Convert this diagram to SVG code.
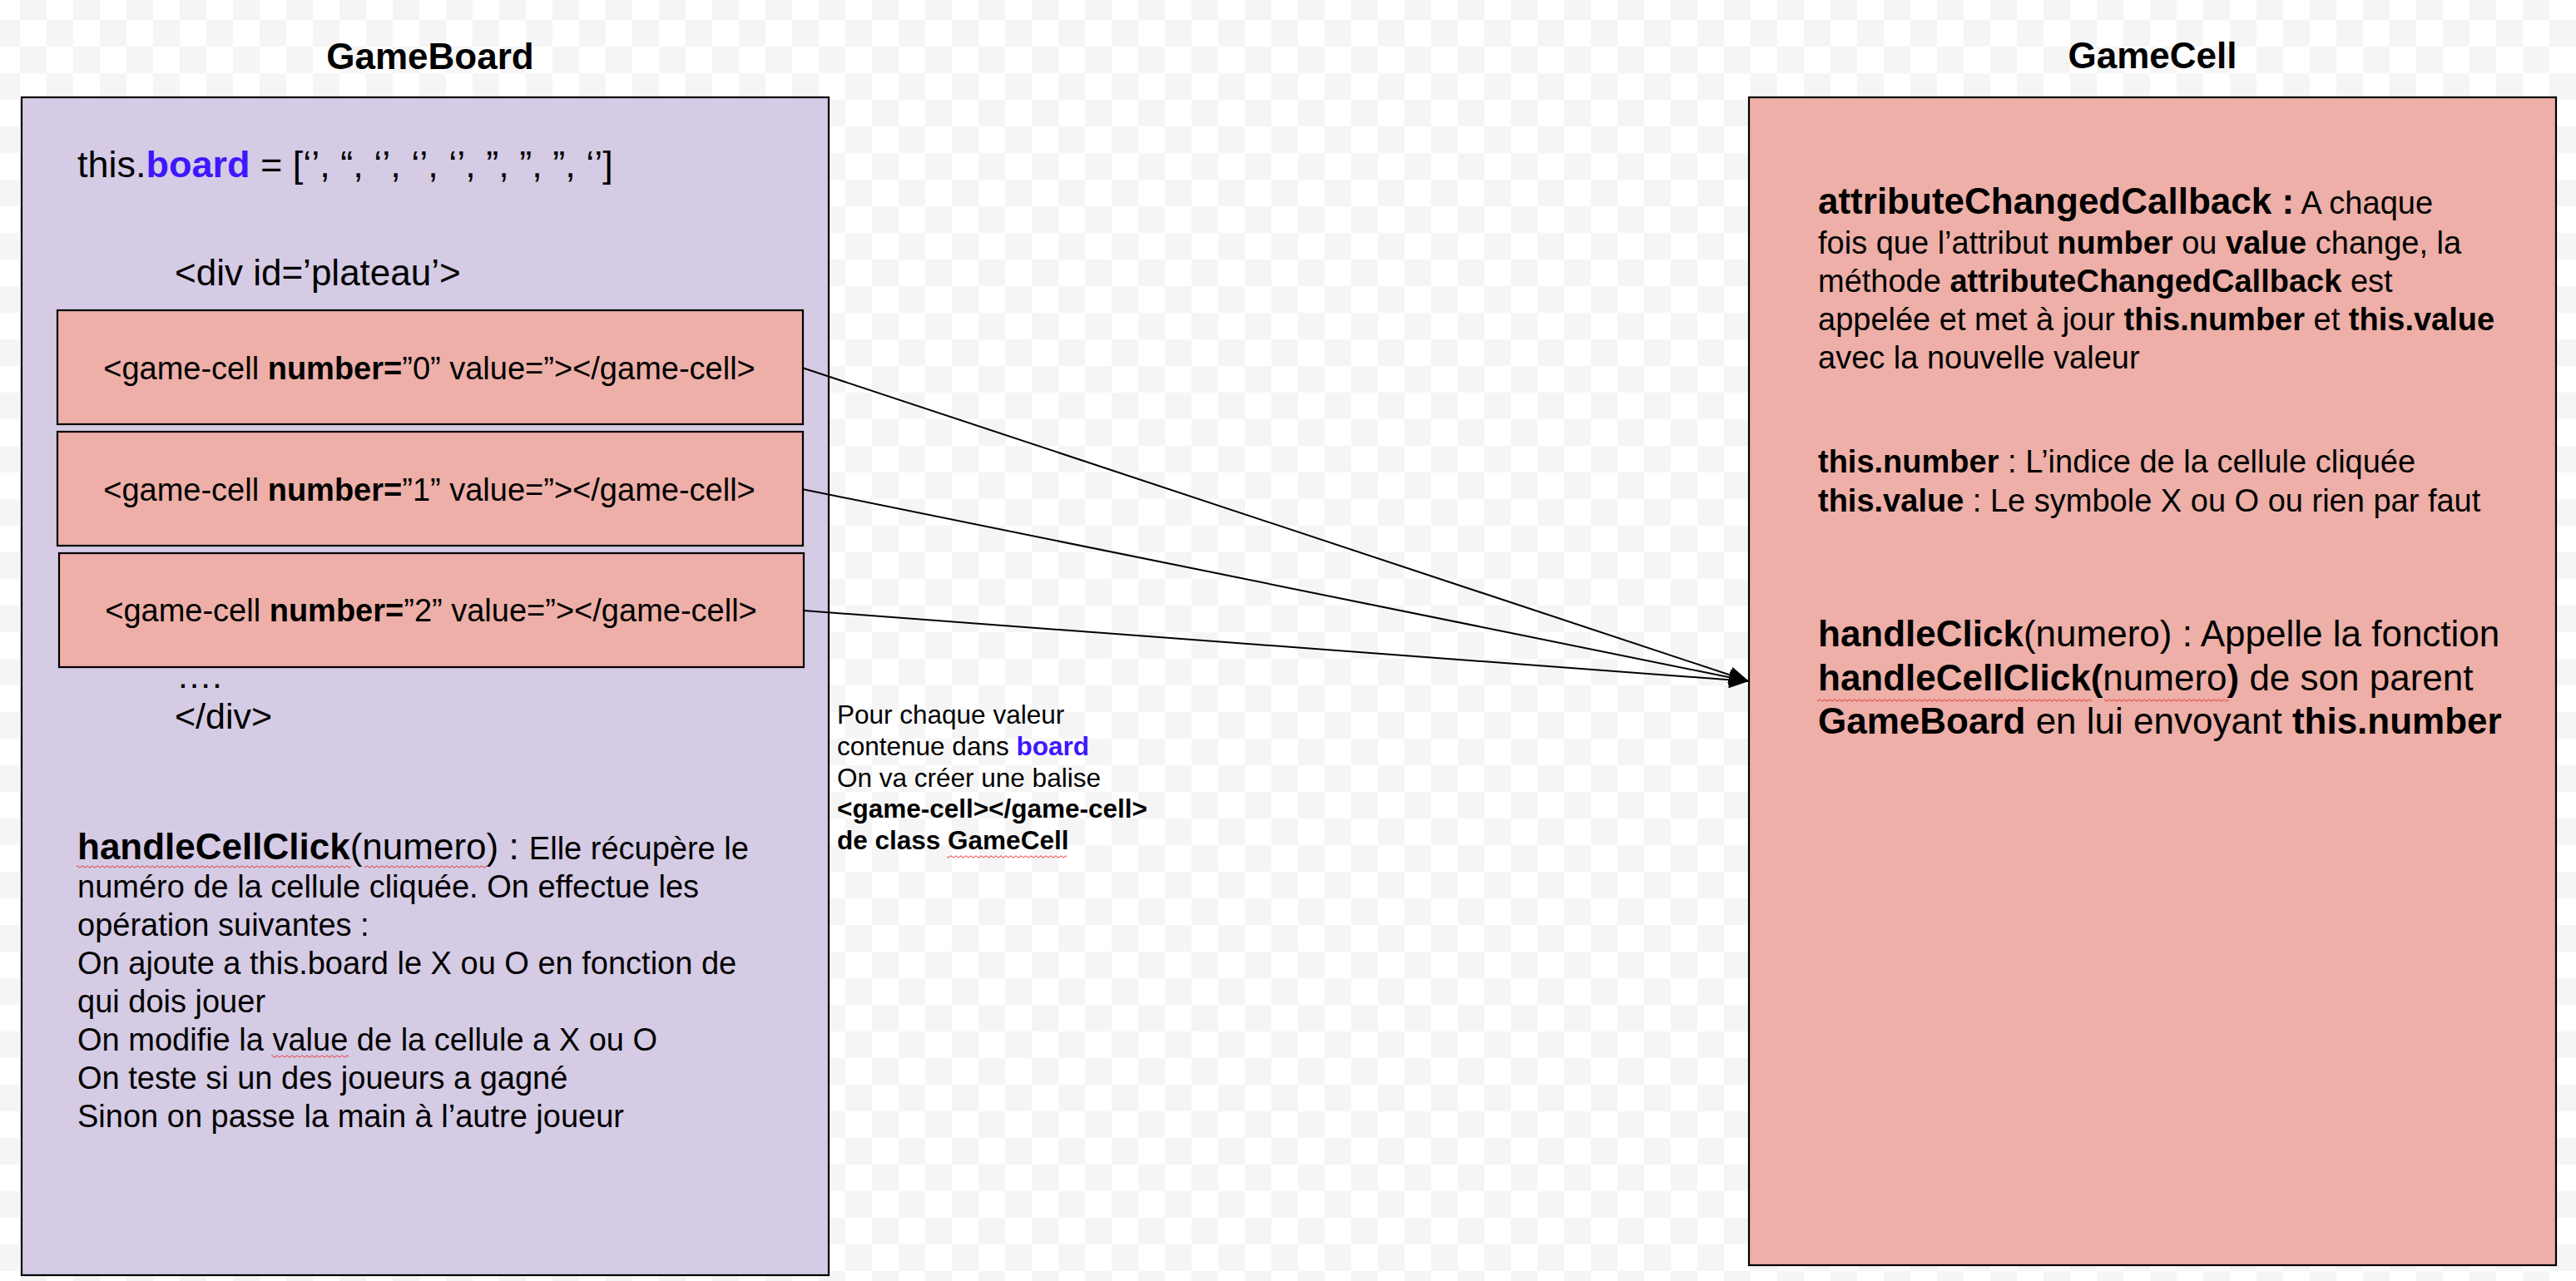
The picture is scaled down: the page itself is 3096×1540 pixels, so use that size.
<svg xmlns="http://www.w3.org/2000/svg" width="3096" height="1540" viewBox="0 0 3096 1540">
<style>
text{font-family:"Liberation Sans",Arial,sans-serif;fill:#000}
.title{font-size:44px;font-weight:bold;text-anchor:middle}
.b{font-weight:bold}
.blue{fill:#3f17ff;font-weight:bold}
.box{stroke:#000;stroke-width:2.2}
.board{fill:#d5cbe4}
.cell{fill:#edafa7}
.conn{stroke:#000;stroke-width:2;fill:none;marker-end:url(#arrow)}
.sq{fill:url(#squiggle)}
</style>
<defs>
<pattern id="checker" x="24" y="24" width="64" height="64" patternUnits="userSpaceOnUse">
<rect width="64" height="64" fill="#ffffff"/>
<rect x="32" y="0" width="32" height="32" fill="#f5f5f5"/>
<rect x="0" y="32" width="32" height="32" fill="#f5f5f5"/>
</pattern>
<pattern id="squiggle" x="0" y="0" width="6" height="4" patternUnits="userSpaceOnUse">
<path d="M0,3.2 L3,0.8 L6,3.2" fill="none" stroke="#e8312f" stroke-width="1"/>
</pattern>
<marker id="arrow" markerUnits="userSpaceOnUse" markerWidth="24" markerHeight="20" viewBox="0 0 24 20" refX="24" refY="10" orient="auto">
<path d="M0,0 L24,10 L0,20 z" fill="#000"/>
</marker>
</defs>
<rect width="3096" height="1540" fill="url(#checker)"/>

<text class="title" x="517" y="83">GameBoard</text>
<text class="title" x="2587" y="82">GameCell</text>

<g id="gameboard">
<rect class="box board" x="26" y="117" width="970" height="1416"/>
<text x="93" y="213" font-size="45">this.<tspan class="blue">board</tspan> = [‘’, “, ‘’, ‘’, ‘’, ”, ”, ”, ‘’]</text>
<text x="210" y="343" font-size="44">&lt;div id=’plateau’&gt;</text>
<text x="212" y="827" font-size="43">….</text>
<text x="210" y="876" font-size="43">&lt;/div&gt;</text>
<g font-size="38">
<text x="93" y="1033"><tspan font-size="44"><tspan class="b">handleCellClick</tspan>(numero) : </tspan>Elle récupère le</text>
<text x="93" y="1079">numéro de la cellule cliquée. On effectue les</text>
<text x="93" y="1125">opération suivantes :</text>
<text x="93" y="1171">On ajoute a this.board le X ou O en fonction de</text>
<text x="93" y="1217">qui dois jouer</text>
<text x="93" y="1263">On modifie la value de la cellule a X ou O</text>
<text x="93" y="1309">On teste si un des joueurs a gagné</text>
<text x="93" y="1355">Sinon on passe la main à l’autre joueur</text>
</g>
<rect class="sq" x="92" y="1040" width="330" height="4"/>
<rect class="sq" x="438" y="1040" width="148" height="4"/>
<rect class="sq" x="326" y="1268" width="93" height="4"/>
</g>

<g id="cell0">
<rect class="box cell" x="69" y="373" width="896" height="137"/>
<text x="516" y="456" font-size="38" text-anchor="middle">&lt;game-cell <tspan class="b">number=</tspan>”0” value=”&gt;&lt;/game-cell&gt;</text>
</g>
<g id="cell1">
<rect class="box cell" x="69" y="519" width="896" height="137"/>
<text x="516" y="602" font-size="38" text-anchor="middle">&lt;game-cell <tspan class="b">number=</tspan>”1” value=”&gt;&lt;/game-cell&gt;</text>
</g>
<g id="cell2">
<rect class="box cell" x="71" y="665" width="895" height="137"/>
<text x="518" y="747" font-size="38" text-anchor="middle">&lt;game-cell <tspan class="b">number=</tspan>”2” value=”&gt;&lt;/game-cell&gt;</text>
</g>

<g id="note">
<g font-size="31.5">
<text x="1006" y="870">Pour chaque valeur</text>
<text x="1006" y="908">contenue dans <tspan class="blue">board</tspan></text>
<text x="1006" y="946">On va créer une balise</text>
<text x="1006" y="983" class="b">&lt;game-cell&gt;&lt;/game-cell&gt;</text>
<text x="1006" y="1021" class="b">de class GameCell</text>
</g>
<rect class="sq" x="1138" y="1028" width="144" height="4"/>
</g>

<g id="gamecell">
<rect class="box cell" x="2102" y="117" width="970" height="1404"/>
<g font-size="38">
<text x="2185" y="257"><tspan class="b" font-size="44">attributeChangedCallback :</tspan> A chaque</text>
<text x="2185" y="305">fois que l’attribut <tspan class="b">number</tspan> ou <tspan class="b">value</tspan> change, la</text>
<text x="2185" y="351">méthode <tspan class="b">attributeChangedCallback</tspan> est</text>
<text x="2185" y="397">appelée et met à jour <tspan class="b">this.number</tspan> et <tspan class="b">this.value</tspan></text>
<text x="2185" y="443">avec la nouvelle valeur</text>
<text x="2185" y="568"><tspan class="b">this.number</tspan> : L’indice de la cellule cliquée</text>
<text x="2185" y="615"><tspan class="b">this.value</tspan> : Le symbole X ou O ou rien par faut</text>
</g>
<g font-size="44">
<text x="2185" y="777"><tspan class="b">handleClick</tspan>(numero) : Appelle la fonction</text>
<text x="2185" y="830"><tspan class="b">handleCellClick(</tspan>numero<tspan class="b">)</tspan> de son parent</text>
<text x="2185" y="882"><tspan class="b">GameBoard</tspan> en lui envoyant <tspan class="b">this.number</tspan></text>
</g>
<rect class="sq" x="2184" y="840" width="330" height="4"/>
<rect class="sq" x="2529" y="840" width="150" height="4"/>
</g>

<g id="connectors">
<line class="conn" x1="964" y1="442" x2="2102" y2="819"/>
<line class="conn" x1="964" y1="588" x2="2102" y2="819"/>
<line class="conn" x1="966" y1="734" x2="2102" y2="819"/>
</g>
</svg>
